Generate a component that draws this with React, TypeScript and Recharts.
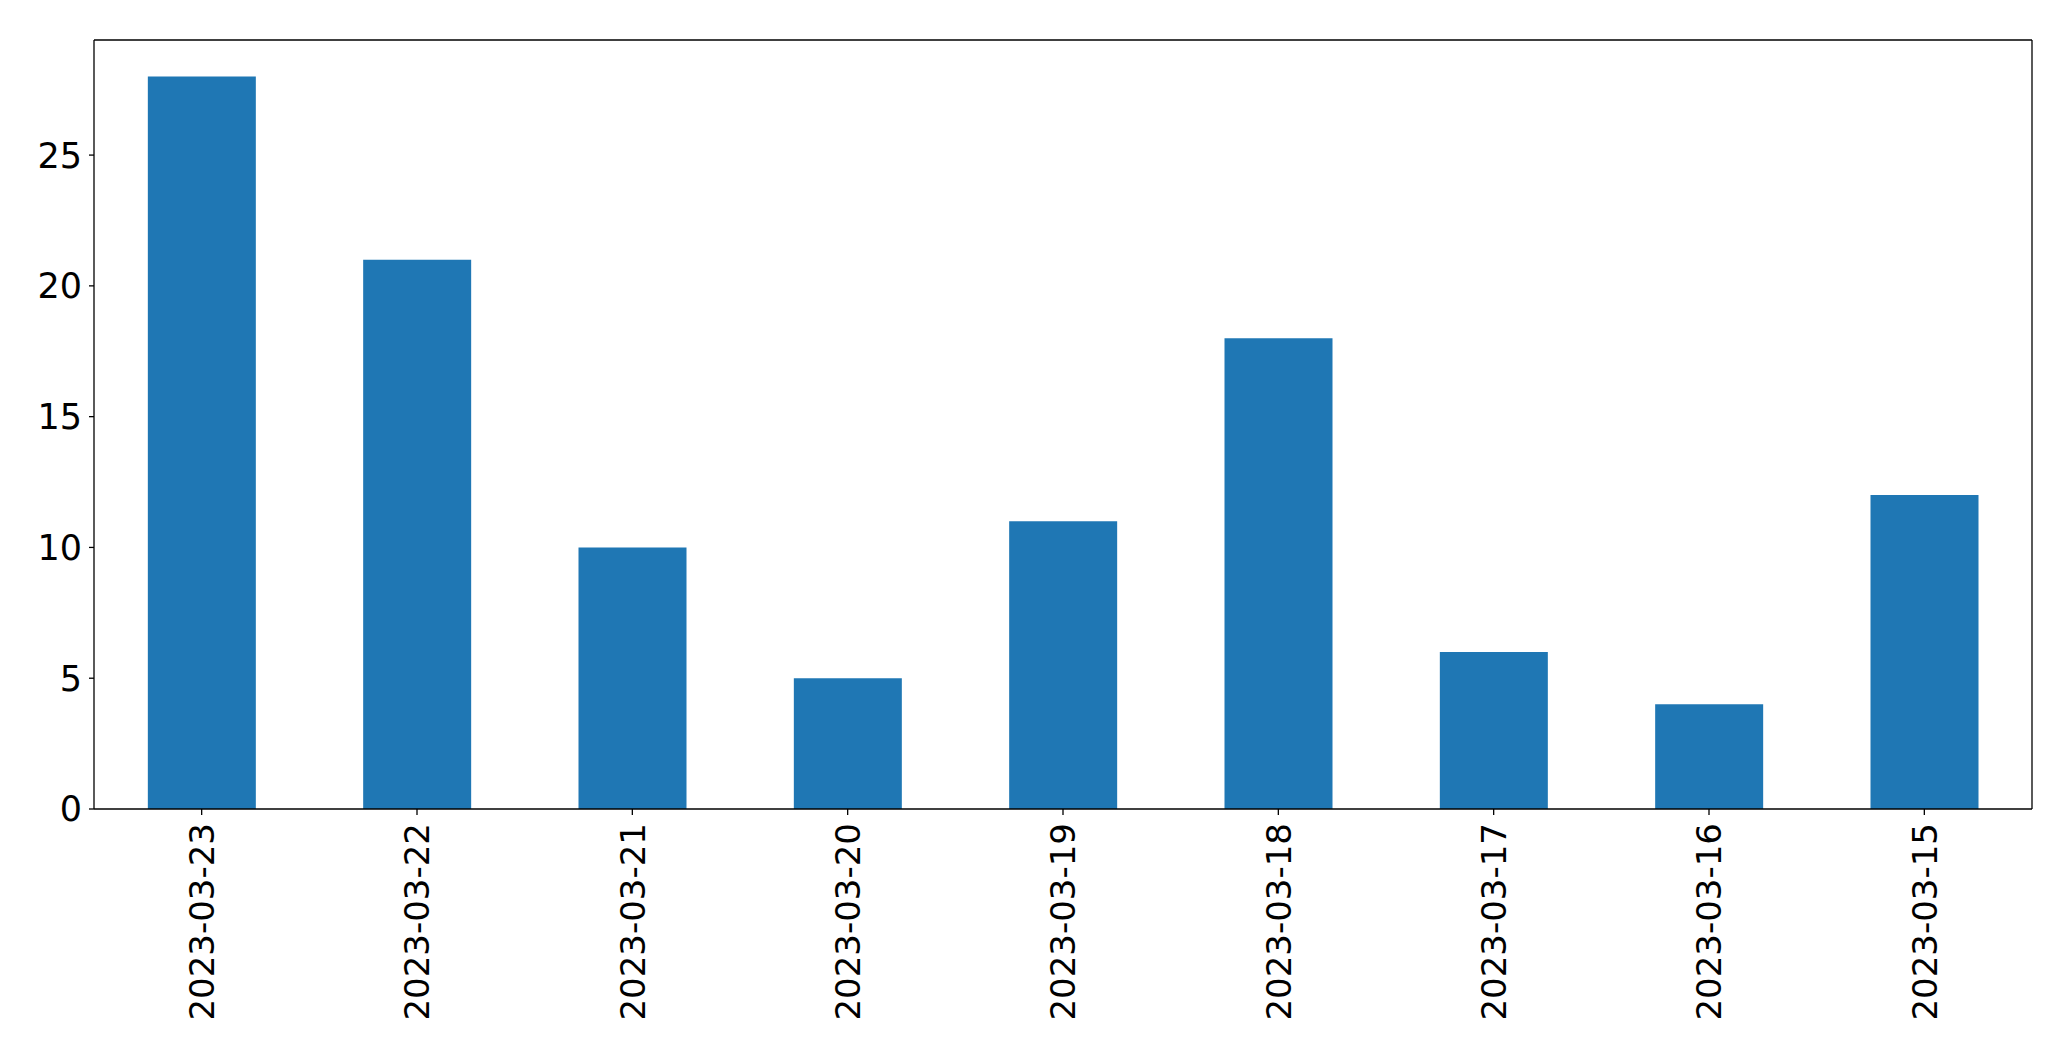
import React from "react";
import { BarChart, Bar, XAxis, YAxis } from "recharts";

// dates in the order shown (newest first)
const dates = [
  "2023-03-23",
  "2023-03-22",
  "2023-03-21",
  "2023-03-20",
  "2023-03-19",
  "2023-03-18",
  "2023-03-17",
  "2023-03-16",
  "2023-03-15",
];
const counts = [28, 21, 10, 5, 11, 18, 6, 4, 12];
const yTicks = [0, 5, 10, 15, 20, 25];

const data = dates.map((d, i) => ({ date: d, count: counts[i] }));

const FONT = "'DejaVu Sans', sans-serif";

// rotated date label under each bar
const DateTick = (props: any) => {
  const { x, y, payload } = props;
  return (
    <g transform={`translate(${x},${y})`}>
      <text
        transform="rotate(-90)"
        textAnchor="end"
        dy="0.36em"
        fontFamily={FONT}
        fontSize={34}
        fill="#000"
      >
        {payload.value}
      </text>
    </g>
  );
};

const App: React.FC = () => {
  return (
    <div style={{ position: "absolute", left: 0, top: 0, width: 2071, height: 1061, background: "#fff" }}>
      <BarChart
        width={2071}
        height={1061}
        data={data}
        margin={{ top: 39, right: 38, left: 0, bottom: 0 }}
        barCategoryGap="25%"
      >
        <XAxis
          dataKey="date"
          height={252}
          interval={0}
          tick={<DateTick />}
          tickSize={6}
          tickMargin={8}
          axisLine={{ stroke: "#000", strokeWidth: 1.3 }}
          tickLine={{ stroke: "#000", strokeWidth: 1.3 }}
        />
        <XAxis
          xAxisId="top"
          dataKey="date"
          orientation="top"
          height={1}
          tick={false}
          tickLine={false}
          axisLine={{ stroke: "#000", strokeWidth: 1.3 }}
        />
        <YAxis
          width={94}
          domain={[0, 29.4]}
          ticks={yTicks}
          interval={0}
          tickSize={5}
          tickMargin={7}
          tick={{ fontFamily: FONT, fontSize: 35, fill: "#000" }}
          axisLine={{ stroke: "#000", strokeWidth: 1.3 }}
          tickLine={{ stroke: "#000", strokeWidth: 1.3 }}
        />
        <YAxis
          yAxisId="right"
          orientation="right"
          width={1}
          domain={[0, 29.4]}
          tick={false}
          tickLine={false}
          axisLine={{ stroke: "#000", strokeWidth: 1.3 }}
        />
        <Bar dataKey="count" fill="#1f77b4" isAnimationActive={false} />
      </BarChart>
    </div>
  );
};

export default App;
